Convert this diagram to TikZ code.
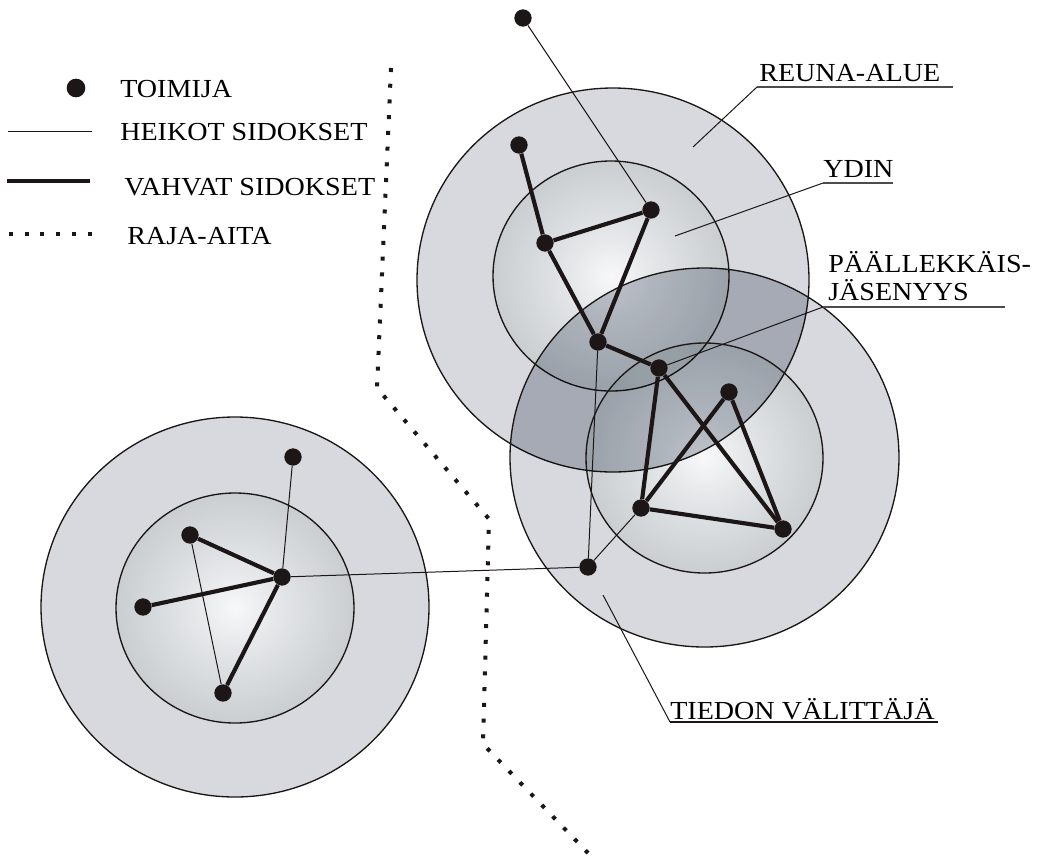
\documentclass[tikz,border=0pt]{standalone}
\usepackage{fontspec}
\setmainfont{Liberation Serif}[FakeStretch=1.08]
\usetikzlibrary{calc}
\definecolor{outerg}{RGB}{216,217,222}
\definecolor{overl}{RGB}{232,236,239}
\definecolor{cc0}{RGB}{248,248,250}
\definecolor{cc1}{RGB}{230,232,234}
\definecolor{cc2}{RGB}{196,201,204}
\definecolor{cc3}{RGB}{172,179,182}
\definecolor{cc4}{RGB}{160,168,172}
\definecolor{ink}{RGB}{28,22,22}
\pgfdeclareradialshading{core}{\pgfpoint{0bp}{0bp}}{color(0bp)=(cc0); color(8bp)=(cc1); color(28bp)=(cc2); color(44bp)=(cc3); color(50bp)=(cc4)}
\tikzset{
  actor/.style={circle, fill=ink, draw=none, inner sep=0pt, minimum size=13pt},
  weak/.style={draw=ink, line width=0.75pt},
  strong/.style={draw=ink, line width=3.1pt},
  ring/.style={draw=ink, line width=1pt},
  fence/.style={draw=ink, line width=3pt, dash pattern=on 3pt off 8.8pt},
  lbl/.style={inner sep=0pt, anchor=base west, font=\fontsize{19.5}{22}\selectfont},
  leader/.style={draw=ink, line width=0.75pt},
  uline/.style={draw=black!70, line width=1.1pt},
}
\begin{document}
\begin{tikzpicture}[x=0.75pt, y=-0.75pt]
\useasboundingbox (0,0) rectangle (1045,858);

% ---------- upper group (beneath) ----------
\fill[outerg] (613,280) ellipse [x radius=196, y radius=192];
\shade[shading=core] (611,276) ellipse [x radius=118, y radius=115];
\begin{scope}
  \clip (0,858) rectangle (1045,0) (704.5,457.5) ellipse [x radius=194.5, y radius=189.5];
  \draw[ring] (613,280) ellipse [x radius=196, y radius=192];
  \draw[ring] (611,276) ellipse [x radius=118, y radius=115];
\end{scope}

% ---------- lower right group (multiplied on top) ----------
\fill[outerg, even odd rule, blend mode=multiply] (704.5,457.5) ellipse [x radius=194.5, y radius=189.5] (704.5,458) ellipse [x radius=118.5, y radius=115];
\shade[shading=core, blend mode=multiply] (704.5,458) ellipse [x radius=118.5, y radius=115];
\begin{scope}
  \clip (704.5,457.5) ellipse [x radius=194.5, y radius=189.5];
  \fill[overl, blend mode=multiply] (613,280) ellipse [x radius=196, y radius=192];
\end{scope}
\draw[ring] (704.5,457.5) ellipse [x radius=194.5, y radius=189.5];
\draw[ring] (704.5,458) ellipse [x radius=118.5, y radius=115];

% ---------- left group ----------
\fill[outerg] (235,607) ellipse [x radius=194, y radius=190];
\shade[shading=core] (235,608) ellipse [x radius=119, y radius=115];
\draw[ring] (235,607) ellipse [x radius=194, y radius=190];
\draw[ring] (235,608) ellipse [x radius=119, y radius=115];

% ---------- boundary fence ----------
\coordinate (f1) at (391,68);
\coordinate (f2) at (377,388);
\coordinate (f3) at (489,519);
\coordinate (f4) at (483,744);
\coordinate (f5) at (588,853);
\draw[fence] (f1) -- (f2) -- (f3) -- (f4) -- (f5);

% ---------- actors ----------
\node[actor] (n1) at (523,18) {};
\node[actor] (n2) at (519,145) {};
\node[actor] (n3) at (545,243) {};
\node[actor] (n4) at (651,210) {};
\node[actor] (n5) at (598,342) {};
\node[actor] (n6) at (659,368) {};
\node[actor] (n7) at (729,392) {};
\node[actor] (n8) at (641,508) {};
\node[actor] (n9) at (783,529) {};
\node[actor] (n10) at (588,567) {};
\node[actor] (l1) at (293,457) {};
\node[actor] (l2) at (190,535) {};
\node[actor] (l3) at (282,577) {};
\node[actor] (l4) at (143,607) {};
\node[actor] (l5) at (223,693) {};

% ---------- ties ----------
\draw[weak] (n1) -- (n4);
\draw[weak] (n5) -- (n10);
\draw[weak] (n10) -- (n8);
\draw[weak] (l3) -- (n10);
\draw[weak] (l1) -- (l3);
\draw[weak] (l2) -- (l5);
\draw[strong] (n2) -- (n3);
\draw[strong] (n3) -- (n4);
\draw[strong] (n3) -- (n5);
\draw[strong] (n4) -- (n5);
\draw[strong] (n5) -- (n6);
\draw[strong] (n6) -- (n8);
\draw[strong] (n6) -- (n9);
\draw[strong] (n7) -- (n8);
\draw[strong] (n7) -- (n9);
\draw[strong] (n8) -- (n9);
\draw[strong] (l2) -- (l3);
\draw[strong] (l4) -- (l3);
\draw[strong] (l3) -- (l5);

% ---------- labels ----------
\node[lbl] (tReuna) at (759,81) {REUNA-ALUE};
\coordinate (uR1) at (757,87);
\coordinate (uR2) at (953,87);
\coordinate (pR) at (693,147);
\draw[uline] (uR1) -- (uR2);
\draw[leader] (uR1) -- (pR);

\node[lbl] (tYdin) at (823,177) {YDIN};
\coordinate (uY1) at (823,183);
\coordinate (uY2) at (893,183);
\coordinate (pY) at (675,236);
\draw[uline] (uY1) -- (uY2);
\draw[leader] (uY1) -- (pY);

\node[lbl] (tPaal) at (828,272) {PÄÄLLEKKÄIS-};
\node[lbl] (tJas) at (828,300) {JÄSENYYS};
\coordinate (uP1) at (823,307);
\coordinate (uP2) at (1005,307);
\draw[uline] (uP1) -- (uP2);
\draw[leader] (uP1) -- (n6);

\node[lbl] (tTied) at (670,719) {TIEDON VÄLITTÄJÄ};
\coordinate (uT1) at (670,722);
\coordinate (uT2) at (938,722);
\coordinate (pT) at (603,595);
\draw[leader, line width=1.1pt] (uT1) -- (uT2);
\draw[leader] (uT1) -- (pT);

% ---------- legend ----------
\node[actor, minimum size=14pt] (legDot) at (76,88) {};
\node[lbl] (legT1) at (120,97) {TOIMIJA};
\coordinate (lw1) at (8,131);
\coordinate (lw2) at (92,131);
\draw[weak] (lw1) -- (lw2);
\node[lbl] (legT2) at (120,140) {HEIKOT SIDOKSET};
\coordinate (ls1) at (7,181);
\coordinate (ls2) at (90,181);
\draw[strong, line width=3.6pt] (ls1) -- (ls2);
\node[lbl] (legT3) at (124,195) {VAHVAT SIDOKSET};
\coordinate (ld1) at (9,234);
\coordinate (ld2) at (96,234);
\draw[fence] (ld1) -- (ld2);
\node[lbl] (legT4) at (127,244) {RAJA-AITA};
\end{tikzpicture}
\end{document}
